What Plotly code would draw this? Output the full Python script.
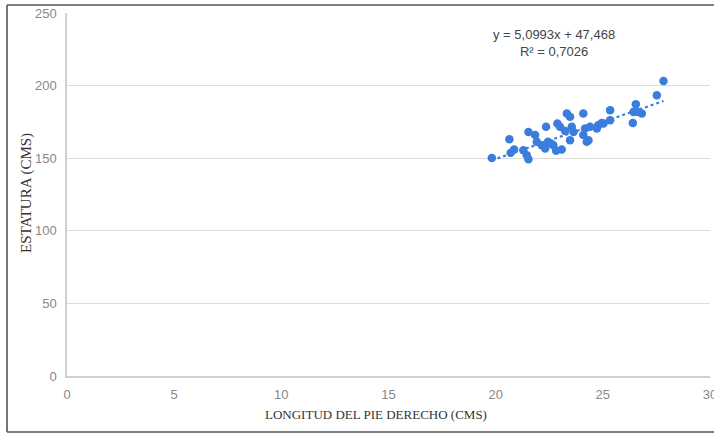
import plotly.graph_objects as go

# Data
foot_length = [19.82, 20.64, 20.70, 20.86, 21.29, 21.53, 21.45, 21.53, 21.84, 21.92,
               22.15, 22.31, 22.35, 22.69, 22.82, 23.08, 22.88, 23.00, 23.24, 23.32,
               23.47, 23.47, 23.55, 23.63, 24.09, 24.17, 24.09, 24.25, 24.33, 24.72,
               25.03, 25.34, 25.34, 26.40, 26.43, 26.54, 26.82, 27.52, 27.83, 22.44,
               22.58, 24.40, 24.95, 26.66, 24.79]
height = [150.2, 163.1, 153.7, 156.0, 155.5, 149.3, 152.1, 168.1, 165.9, 161.3,
          159.0, 156.7, 171.6, 159.0, 155.1, 156.0, 173.9, 171.6, 168.8, 180.8,
          178.5, 162.4, 171.6, 168.1, 180.8, 170.5, 165.9, 161.3, 162.4, 170.5,
          173.9, 176.2, 183.1, 174.3, 181.9, 187.2, 180.8, 193.4, 203.2, 161.3,
          160.2, 171.6, 174.3, 181.9, 172.7]
trend_slope = 5.0993
trend_intercept = 47.468
equation_text = ["y = 5,0993x + 47,468", "R² = 0,7026"]
x_title = "LONGITUD DEL PIE DERECHO (CMS)"
y_title = "ESTATURA (CMS)"
x_ticks = [0, 5, 10, 15, 20, 25, 30]
y_ticks = [0, 50, 100, 150, 200, 250]

blue = "#3b7ddd"

x_min, x_max = min(foot_length), max(foot_length)
trend_x = [x_min, x_max]
trend_y = [trend_slope * v + trend_intercept for v in trend_x]

fig = go.Figure()
fig.add_trace(go.Scatter(
    x=trend_x, y=trend_y, mode="lines",
    line=dict(color=blue, width=2.2, dash="dot"),
    hoverinfo="skip", showlegend=False))
fig.add_trace(go.Scatter(
    x=foot_length, y=height, mode="markers",
    marker=dict(color=blue, size=8.5, line=dict(width=0)),
    showlegend=False))

W, H = 714, 435
l, r, t, b = 67, 4, 13, 59
pw, ph = W - l - r, H - t - b
def px(xp):
    return (xp - l) / pw
def py(yp):
    return (H - b - yp) / ph

fig.add_annotation(
    x=22.7, y=229, xref="x", yref="y",
    text=equation_text[0] + "<br>" + equation_text[1],
    showarrow=False, align="center",
    font=dict(family="Liberation Sans, Arial", size=13, color="#444444"))

serif = "Liberation Serif, Times New Roman"
fig.add_annotation(
    x=px(376), y=py(414), xref="paper", yref="paper",
    xanchor="center", yanchor="middle", showarrow=False,
    text=x_title, font=dict(family=serif, size=13, color="#333333"))
fig.add_annotation(
    x=px(26), y=py(193), xref="paper", yref="paper",
    xanchor="center", yanchor="middle", showarrow=False, textangle=-90,
    text=y_title, font=dict(family=serif, size=15, color="#333333"))

# outer frame (left, top, bottom)
frame = dict(color="#555555", width=1.6)
fig.add_shape(type="line", xref="paper", yref="paper",
              x0=px(7), x1=px(7), y0=py(5), y1=py(432), line=frame)
fig.add_shape(type="line", xref="paper", yref="paper",
              x0=px(7), x1=px(716), y0=py(5), y1=py(5), line=frame)
fig.add_shape(type="line", xref="paper", yref="paper",
              x0=px(7), x1=px(716), y0=py(432), y1=py(432), line=frame)

fig.update_layout(
    width=W, height=H,
    margin=dict(l=l, r=r, t=t, b=b, pad=0, autoexpand=False),
    paper_bgcolor="white", plot_bgcolor="white",
    font=dict(family="Liberation Sans, Arial", size=13, color="#888888"),
    xaxis=dict(
        range=[0, 30], tickvals=x_ticks, showgrid=False, zeroline=False,
        showline=True, linecolor="#d0d0d0", linewidth=1.5, ticks="",
        ticklabelstandoff=6, ticklabeloverflow="allow", automargin=False,
        tickfont=dict(size=13, color="#888888")),
    yaxis=dict(
        range=[0, 250], tickvals=y_ticks, showgrid=True, gridcolor="#dcdcdc", gridwidth=1.2,
        zeroline=False, showline=True, linecolor="#d0d0d0", linewidth=1.5, ticks="",
        ticklabelstandoff=6, automargin=False,
        tickfont=dict(size=13, color="#888888")),
)

fig.write_html("out.html", config={"displayModeBar": False},
               post_script="document.body.style.margin='0';document.body.style.overflow='hidden';")
